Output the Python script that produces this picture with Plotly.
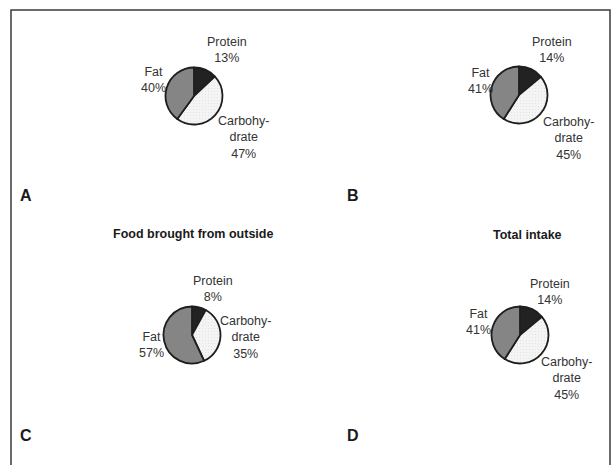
import plotly.graph_objects as go

W, H = 616, 465

components = ["Protein", "Carbohydrate", "Fat"]
label_texts = ["Protein", "Carbohy-<br>drate", "Fat"]
panels = ["A", "B", "C", "D"]
protein = [13, 14, 8, 14]
carbohydrate = [47, 45, 35, 45]
fat = [40, 41, 57, 41]
titles = {"C": "Food brought from outside", "D": "Total intake"}

# layout (pixel positions)
pie_centers = {"A": (194, 96), "B": (519, 95), "C": (192, 335), "D": (520, 335)}
radius = 28.5
label_pos = {
    "A": {"Protein": (227, 50), "Fat": (153, 80), "Carbohydrate": (243, 137)},
    "B": {"Protein": (552, 50), "Fat": (480, 81), "Carbohydrate": (568, 138)},
    "C": {"Protein": (213, 289), "Fat": (151, 345), "Carbohydrate": (245, 337)},
    "D": {"Protein": (550, 292), "Fat": (478, 322), "Carbohydrate": (566, 378)},
}
letter_pos = {"A": (26, 195), "B": (353, 195), "C": (26, 435), "D": (353, 435)}
title_pos = {"C": (193, 234), "D": (527, 235)}

colors = ["#222222", "#f4f4f4", "#858585"]

def px(x):
    return x / W

def py(y):
    return 1 - y / H

fig = go.Figure()
for i, p in enumerate(panels):
    cx, cy = pie_centers[p]
    vals = [protein[i], carbohydrate[i], fat[i]]
    fig.add_trace(go.Pie(
        labels=components, values=vals, sort=False, direction="clockwise",
        rotation=0, textinfo="none", hoverinfo="label+percent",
        showlegend=False,
        marker=dict(colors=colors, line=dict(color="#1e1e1e", width=1.8),
                    pattern=dict(shape=["", ".", ""], size=3, solidity=0.1,
                                 fgcolor=["#222222", "#c8c8c8", "#858585"], fillmode="overlay")),
        domain=dict(x=[px(cx - radius), px(cx + radius)],
                    y=[py(cy + radius), py(cy - radius)]),
    ))
    for j, comp in enumerate(components):
        lx, ly = label_pos[p][comp]
        fig.add_annotation(
            x=px(lx), y=py(ly), xref="paper", yref="paper",
            text=f"{label_texts[j]}<br>{vals[j]}%", showarrow=False,
            font=dict(family="Liberation Sans, Arial", size=12.5, color="#333333"),
            align="center", xanchor="center", yanchor="middle",
        )
    lx, ly = letter_pos[p]
    fig.add_annotation(x=px(lx), y=py(ly), xref="paper", yref="paper", text=f"<b>{p}</b>",
                       showarrow=False, font=dict(family="Liberation Sans, Arial", size=16, color="#1a1a1a"),
                       xanchor="center", yanchor="middle")
    if p in titles:
        tx, ty = title_pos[p]
        fig.add_annotation(x=px(tx), y=py(ty), xref="paper", yref="paper", text=f"<b>{titles[p]}</b>",
                           showarrow=False, font=dict(family="Liberation Sans, Arial", size=12.5, color="#1a1a1a"),
                           xanchor="center", yanchor="middle")

fig.add_shape(type="rect", xref="paper", yref="paper", x0=px(11), x1=px(610), y0=py(480), y1=py(10),
              line=dict(color="#3a3a3a", width=1.5))

fig.update_layout(width=W, height=H, margin=dict(l=0, r=0, t=0, b=0),
                  paper_bgcolor="white", plot_bgcolor="white")
fig.write_html("out.html", config={"displayModeBar": False},
               post_script="document.body.style.margin='0px';")
